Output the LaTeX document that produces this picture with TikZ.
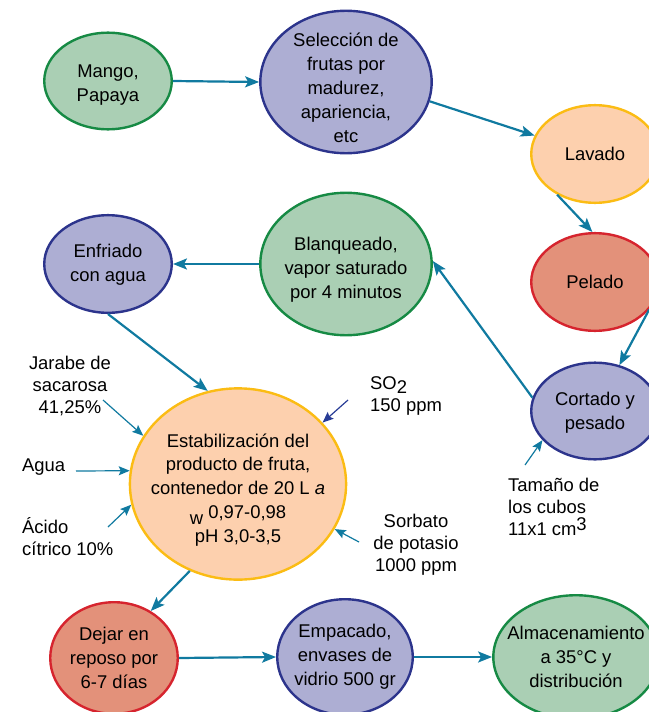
\documentclass[tikz,border=0pt]{standalone}
\usepackage{fontspec}
\setmainfont{Liberation Sans}
\usetikzlibrary{shapes.geometric,arrows.meta}
\definecolor{verdeF}{RGB}{170,207,180}
\definecolor{verdeB}{RGB}{22,138,68}
\definecolor{lilaF}{RGB}{173,174,211}
\definecolor{lilaB}{RGB}{44,52,140}
\definecolor{melonF}{RGB}{253,208,174}
\definecolor{melonB}{RGB}{251,188,20}
\definecolor{rojoF}{RGB}{227,145,122}
\definecolor{rojoB}{RGB}{214,36,46}
\definecolor{azul}{RGB}{16,122,160}
\definecolor{azulO}{RGB}{40,60,150}
\begin{document}
\begin{tikzpicture}[x=1bp,y=-1bp,>={Stealth[length=14bp,width=11bp,inset=3bp]}, font=\fontsize{18.5}{24}\selectfont, line join=round,
	paso/.style={ellipse,draw,line width=2.4bp},
	texto/.style={align=center,inner sep=0pt},
	verde/.style={paso,draw=verdeB,fill=verdeF},
	lila/.style={paso,draw=lilaB,fill=lilaF},
	melon/.style={paso,draw=melonB,fill=melonF},
	rojo/.style={paso,draw=rojoB,fill=rojoF},
	flujo/.style={->,draw=azul,line width=2.2bp},
	entrada/.style={->,draw=azul,line width=1.2bp,>={Stealth[length=11bp,width=9bp,inset=2bp]}},
	nota/.style={font=\fontsize{18.5}{22}\selectfont,inner sep=0pt}]
	\useasboundingbox (0,0) rectangle (649,712);
	% pasos del proceso
	\node[verde,minimum width=128,minimum height=97,label={[texto,yshift=-4bp]center:{Mango,\\Papaya}}] (mango) at (108,81) {};
	\node[lila,minimum width=172,minimum height=143,label={[texto,yshift=-6bp]center:{Selección de\\frutas por\\madurez,\\apariencia,\\etc}}] (selec) at (346,82) {};
	\node[melon,minimum width=128,minimum height=98,label={[texto]center:Lavado}] (lavado) at (595,154) {};
	\node[rojo,minimum width=128,minimum height=98,label={[texto]center:Pelado}] (pelado) at (595,282) {};
	\node[lila,minimum width=128,minimum height=97,label={[texto,yshift=-2bp]center:{Cortado y\\pesado}}] (cortado) at (595,411) {};
	\node[verde,minimum width=172,minimum height=143,label={[texto,yshift=-6bp]center:{Blanqueado,\\vapor saturado\\por 4 minutos}}] (blanq) at (346,264) {};
	\node[lila,minimum width=128,minimum height=98,label={[texto,yshift=-1bp]center:{Enfriado\\con agua}}] (enfriado) at (108,264) {};
	\node[melon,minimum width=217,minimum height=192,label={[texto,yshift=-6bp]center:{Estabilización del\\producto de fruta,\\contenedor de 20 L \textit{a}\\\raisebox{-6bp}{w} 0,97-0,98\\pH 3,0-3,5}}] (estab) at (238,484) {};
	\node[rojo,minimum width=128,minimum height=112,label={[texto]center:{Dejar en\\reposo por\\6-7 días}}] (dejar) at (114,658) {};
	\node[lila,minimum width=136,minimum height=116,label={[texto]center:{Empacado,\\envases de\\vidrio 500 gr}}] (empac) at (345,657) {};
	\node[verde,minimum width=166,minimum height=124,label={[texto]center:{Almacenamiento\\a 35°C y\\distribución}}] (almac) at (576,657) {};
	% flechas del proceso
	\foreach \a/\b in {mango.east/selec.west, selec.347/lavado.163, lavado.227/pelado.93, pelado.333/cortado.62, cortado.168/blanq.2, blanq.west/enfriado.east, enfriado.270/estab.108, estab.241/dejar.52, dejar.east/empac.west, empac.east/almac.west}
	\draw[flujo] (\a) -- (\b);
	% entradas
	\node[nota,align=center] (jarabe) at (70,386) {Jarabe de\\sacarosa\\41,25\%};
	\node[nota,anchor=west] (agua) at (22,467) {Agua};
	\node[nota,align=left,anchor=west] (acido) at (22,537) {Ácido\\cítrico 10\%};
	\node[nota,align=left,anchor=west] (so2) at (370,396) {SO\raisebox{-4bp}{2}\\150 ppm};
	\node[nota,align=center] (sorbato) at (416,545) {Sorbato\\de potasio\\1000 ppm};
	\node[nota,align=left,anchor=west] (tamano) at (508,507) {Tamaño de\\los cubos\\11x1 cm\raisebox{5bp}{3}};
	\coordinate (cJ) at (103,400);
	\coordinate (cA) at (76,471);
	\coordinate (cC) at (108,527);
	\coordinate (cS) at (348,400);
	\coordinate (cP) at (359,542);
	\coordinate (cT) at (525,465);
	\draw[entrada] (cJ) -- (estab.153);
	\draw[entrada] (cA) -- (estab.173);
	\draw[entrada] (cC) -- (estab.191);
	\draw[entrada,draw=azulO] (cS) -- (estab.36);
	\draw[entrada] (cP) -- (estab.335);
	\draw[entrada] (cT) -- (cortado.209);
\end{tikzpicture}
\end{document}
